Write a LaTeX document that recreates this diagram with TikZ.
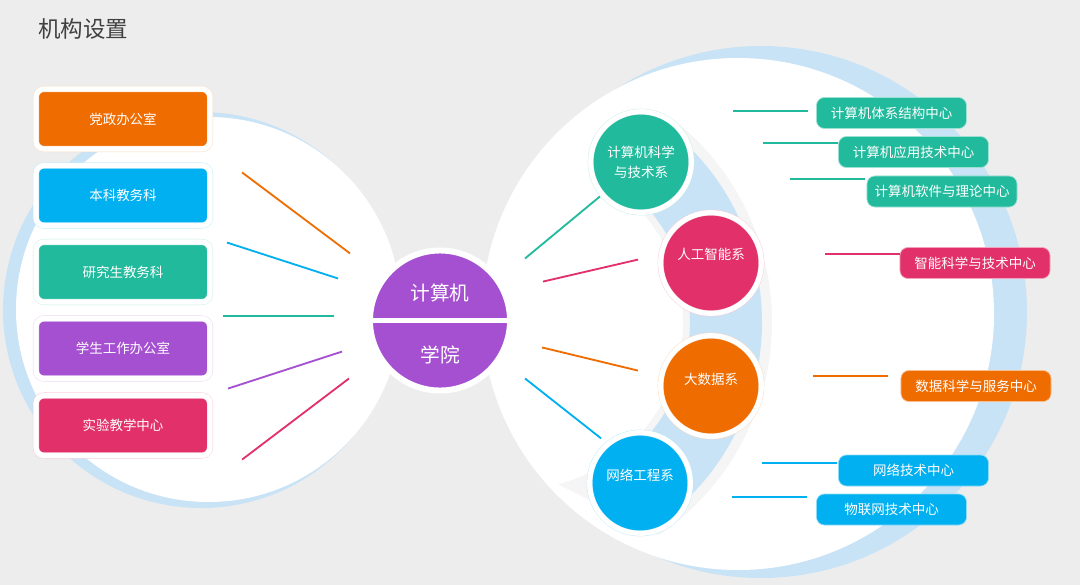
\documentclass[tikz,border=0pt]{standalone}
\usepackage{fontspec}
\usepackage{tikz}
\usetikzlibrary{calc,positioning}
\newfontfamily\cjk{Noto Sans CJK SC}
\definecolor{bggray}{HTML}{EDEDED}
\definecolor{ringblue}{HTML}{C9E3F6}
\definecolor{arcshade}{HTML}{F5F5F5}
\definecolor{titlegray}{HTML}{404040}
\definecolor{unitorange}{HTML}{EF6C00}
\definecolor{unitblue}{HTML}{00B0F0}
\definecolor{unitteal}{HTML}{22BA9C}
\definecolor{unitpurple}{HTML}{A54FD1}
\definecolor{unitpink}{HTML}{E2306A}
\tikzset{
  officebox/.style={rectangle,rounded corners=0.2cm,fill=#1,draw=#1!25,double=white,
    double distance=0.13cm,line width=0.3pt,minimum width=4.35cm,minimum height=1.5cm,
    inner sep=0pt,text=white,font=\cjk\fontsize{9.6}{12}\selectfont},
  deptdisc/.style={circle,fill=#1,draw=#1!25,double=white,double distance=0.125cm,
    line width=0.3pt,minimum size=2.52cm,inner sep=0pt},
  depttext/.style={text=white,align=center,inner sep=0pt,
    font=\cjk\fontsize{9.6}{14.2}\selectfont},
  centrebox/.style={rectangle,rounded corners=0.2cm,fill=#1,draw=white!55!#1,line width=0.5pt,
    minimum width=3.75cm,minimum height=0.775cm,inner sep=0pt,text=white,
    font=\cjk\fontsize{9.6}{12}\selectfont},
  hubtext/.style={text=white,inner sep=0pt,font=\cjk\fontsize{14}{16}\selectfont},
  spoke/.style={line width=1.3pt},
  tie/.style={line width=1.3pt}
}
\begin{document}
\begin{tikzpicture}[x=0.025cm,y=0.025cm]
  \fill[bggray] (0,0) rectangle (1080,-585);
  \useasboundingbox (0,0) rectangle (1080,-585);
  \node[anchor=west,text=titlegray,inner sep=0pt,font=\cjk\fontsize{16}{18}\selectfont] (title) at (38,-29) {机构设置};
  % two big discs with their blue rims
  \fill[ringblue] (201,-310) circle (198);
  \fill[ringblue] (761,-312) circle (266);
  \fill[white] (208.5,-309.5) circle (192.5);
  \fill[white] (738,-314) circle (256);
  % crescent behind the departments
  \coordinate (arcc) at (515,-322);
  \fill[arcshade] ($(arcc)+(50:257)$) arc[start angle=50,end angle=-56,radius=257]
    -- ($(arcc)+(-75:168)$) arc[start angle=-75,end angle=42,radius=168] -- cycle;
  \fill[ringblue] ($(arcc)+(48:247)$) arc[start angle=48,end angle=-58,radius=247]
    -- ($(arcc)+(-50:175)$) arc[start angle=-50,end angle=40,radius=175] -- cycle;
  % hub
  \node[circle,fill=unitpurple,draw=white,line width=4.25pt,minimum size=3.5cm,inner sep=0pt] (col) at (440,-320.5) {};
  \draw[white,line width=3.5pt] (col.west) -- (col.east);
  \node[hubtext] (coltop) at ($(col)+(0,27.5)$) {计算机};
  \node[hubtext] (colbot) at ($(col)+(0,-34.5)$) {学院};
  % offices
  \foreach \n/\y/\c/\t in {o1/119/unitorange/党政办公室,o2/195.5/unitblue/本科教务科,
      o3/272/unitteal/研究生教务科,o4/348.5/unitpurple/学生工作办公室,o5/425.5/unitpink/实验教学中心}
    \node[officebox=\c] (\n) at (123,-\y) {\t};
  \foreach \ai/\ri/\ao/\ro/\c in {143.3/112.2/143.2/247.2/unitorange,157.6/110.3/159.9/226.8/unitblue,
      177.6/106.1/178.8/217/unitteal,197.6/102.8/197.8/222.6/unitpurple,212.5/107.9/215.1/241.9/unitpink,
      36.1/105.2/37.8/202.4/unitteal,20.7/110.1/17.1/207.2/unitpink,
      -14.8/105.5/-14.2/204.2/unitorange,-34.3/102.9/-36.2/199.6/unitblue}
    \draw[spoke,\c] ($(col)+(\ai:\ri)$) -- ($(col)+(\ao:\ro)$);
  % departments
  \node[deptdisc=unitteal] (d1) at (641,-162) {};
  \node[deptdisc=unitpink] (d2) at (711,-263) {};
  \node[deptdisc=unitorange] (d3) at (711,-386) {};
  \node[deptdisc=unitblue] (d4) at (640,-483) {};
  \node[depttext] (d1t) at (d1) {计算机科学\\与技术系};
  \node[depttext] (d2t) at ($(d2)+(0,9)$) {人工智能系};
  \node[depttext] (d3t) at ($(d3)+(0,7)$) {大数据系};
  \node[depttext] (d4t) at ($(d4)+(0,8)$) {网络工程系};
  % centres
  \foreach \n/\x/\y/\c/\t in {b1/891.5/113/unitteal/计算机体系结构中心,b2/913.5/152/unitteal/计算机应用技术中心,
      b3/942/191.5/unitteal/计算机软件与理论中心,b4/975/263/unitpink/智能科学与技术中心,
      b5/976/386/unitorange/数据科学与服务中心,b6/913.5/470.5/unitblue/网络技术中心,
      b7/891.5/509.5/unitblue/物联网技术中心}
    \node[centrebox=\c] (\n) at (\x,-\y) {\t};
  \foreach \n/\g/\d/\c in {b1/8.5/2/unitteal,b2/0.5/9/unitteal,b3/2/12.5/unitteal,b4/0/9/unitpink,
      b5/13/10/unitorange,b6/1.5/7.5/unitblue,b7/9.5/12.5/unitblue}
    \draw[tie,\c] ([shift={(-\g,\d)}]\n.west) -- ++(-75,0);
\end{tikzpicture}
\end{document}
